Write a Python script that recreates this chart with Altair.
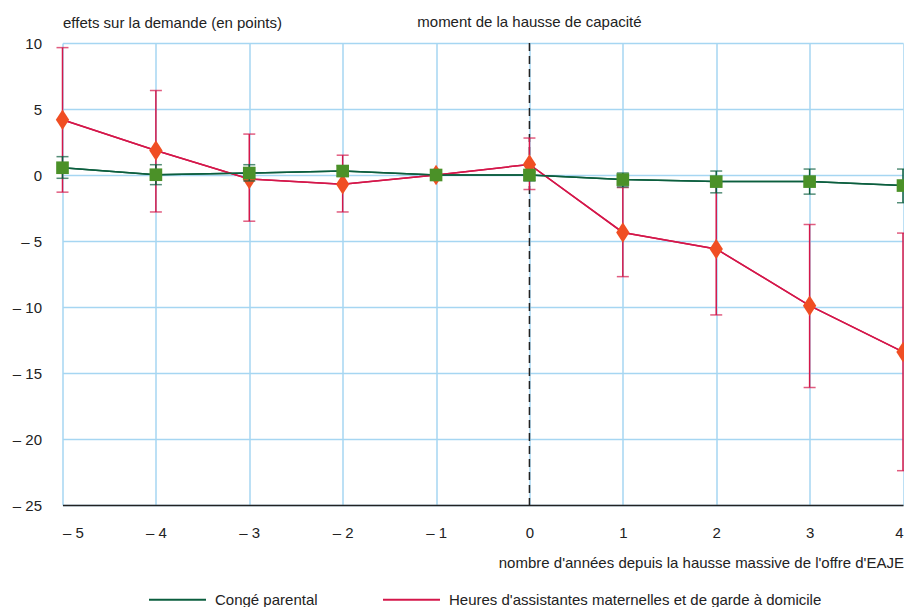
import altair as alt
import pandas as pd

years = [-5, -4, -3, -2, -1, 0, 1, 2, 3, 4]
conge = [0.55, 0.02, 0.15, 0.3, 0.0, 0.0, -0.35, -0.5, -0.5, -0.8]
conge_lo = [-0.25, -0.73, -0.45, -0.1, None, -0.45, -0.9, -1.35, -1.45, -2.1]
conge_hi = [1.39, 0.78, 0.78, 0.7, None, 0.25, 0.15, 0.3, 0.45, 0.45]
heures = [4.18, 1.85, -0.3, -0.7, 0.0, 0.8, -4.35, -5.6, -9.9, -13.4]
heures_lo = [-1.3, -2.8, -3.5, -2.8, None, -1.1, -7.7, -10.6, -16.1, -22.4]
heures_hi = [9.65, 6.4, 3.1, 1.5, None, 2.8, -0.95, -0.6, -3.75, -4.4]

s_conge = "Congé parental"
s_heures = "Heures d'assistantes maternelles et de garde à domicile"
y_ticks = [-25, -20, -15, -10, -5, 0, 5, 10]
x_ticks = years

FONT = "Liberation Sans"
FS = 15
TXT = "#222222"
GRID = "#a6d6f2"
G_LINE = "#0b5e3e"
G_MARK = "#4b9128"
R_LINE = "#d4174a"
R_MARK = "#f04e23"

rows = []
for i, yr in enumerate(years):
    rows.append({"year": yr, "serie": s_conge, "v": conge[i], "lo": conge_lo[i], "hi": conge_hi[i]})
for i, yr in enumerate(years):
    rows.append({"year": yr, "serie": s_heures, "v": heures[i], "lo": heures_lo[i], "hi": heures_hi[i]})
df = pd.DataFrame(rows)
df_err = df.dropna(subset=["lo", "hi"])
dg = df[df.serie == s_conge]
dr = df[df.serie == s_heures]
dg_err = df_err[df_err.serie == s_conge]
dr_err = df_err[df_err.serie == s_heures]

xs = alt.Scale(domain=[-5, 4], nice=False, zero=False)
ys = alt.Scale(domain=[-25, 10], nice=False, zero=False)

lab_expr = "datum.value < 0 ? '– ' + abs(datum.value) : '' + datum.value"

AX = alt.Axis(
    values=x_ticks, labelExpr=lab_expr, grid=True, gridColor=GRID, gridWidth=1.5, gridOpacity=1,
    domain=True, domainColor="#222222", domainWidth=1.5, ticks=False, labelPadding=20,
    labelFontSize=FS, labelFont=FONT, labelColor=TXT,
    title="nombre d'années depuis la hausse massive de l'offre d'EAJE",
    titleFont=FONT, titleFontSize=FS, titleFontWeight="normal", titleColor=TXT,
    titleAnchor="end", titleAlign="right", titleX=841, titleY=57, titleBaseline="middle")
AY = alt.Axis(
    values=y_ticks, labelExpr=lab_expr, grid=True, gridColor=GRID, gridWidth=1.5, gridOpacity=1,
    domain=False, ticks=False, labelPadding=21,
    labelFontSize=FS, labelFont=FONT, labelColor=TXT,
    title="effets sur la demande (en points)", titleAngle=0,
    titleFont=FONT, titleFontSize=FS, titleFontWeight="normal", titleColor=TXT,
    titleAlign="left", titleX=0, titleY=-21, titleBaseline="middle")

X = alt.X("year:Q", scale=xs, axis=AX)
Y = alt.Y("v:Q", scale=ys, axis=AY)

vline = alt.Chart(pd.DataFrame({"year": [0]})).mark_rule(
    color="#222222", strokeDash=[8, 5], strokeWidth=1.5).encode(x=X)

moment = alt.Chart(pd.DataFrame({"year": [0], "t": ["moment de la hausse de capacité"]})).mark_text(
    font=FONT, fontSize=FS, color=TXT, align="center", baseline="middle").encode(
    x=X, y=alt.value(-21), text="t:N")

def errbars(d, col):
    return alt.Chart(d).mark_errorbar(color=col, thickness=1.5, ticks={"size": 12, "thickness": 1.5}).encode(
        x=X,
        y=alt.Y("lo:Q", scale=ys, axis=AY),
        y2="hi:Q")

lines = alt.Chart(df).mark_line(strokeWidth=1.5).encode(
    x=X, y=Y,
    color=alt.Color("serie:N", scale=alt.Scale(domain=[s_conge, s_heures], range=[G_LINE, R_LINE]),
                    legend=alt.Legend(title=None, orient="none", legendX=85.5, legendY=527,
                                      direction="horizontal", symbolType="stroke", symbolSize=3249,
                                      symbolStrokeWidth=2, labelFontSize=FS, labelFont=FONT,
                                      labelColor=TXT, labelOffset=8, columnPadding=61, labelLimit=0)),
    detail="serie:N")

red_line = alt.Chart(dr).mark_line(strokeWidth=1.5, color=R_LINE).encode(x=X, y=Y)
green_line = alt.Chart(dg).mark_line(strokeWidth=1.5, color=G_LINE).encode(x=X, y=Y)

diamond = "M0,-1L0.65,0L0,1L-0.65,0Z"
red_pts = alt.Chart(dr).mark_point(shape=diamond, filled=True, size=420, color=R_MARK, opacity=1).encode(
    x=X, y=Y)
green_pts = alt.Chart(dg).mark_point(shape="square", filled=True, size=160, color=G_MARK, opacity=1).encode(
    x=X, y=Y)

chart = alt.layer(
    lines, vline, errbars(dr_err, R_LINE), red_line, red_pts,
    errbars(dg_err, G_LINE), green_line, green_pts, moment
).properties(
    width=840.5, height=462,
    autosize=alt.AutoSizeParams(type="none"),
    padding={"left": 54.5, "top": 35, "right": 1, "bottom": 102},
).configure(background="white").configure_view(stroke=None).configure_axis(
    gridColor=GRID, gridOpacity=1).configure_axisY(gridColor=GRID, gridOpacity=1).configure_axisX(
    gridColor=GRID, gridOpacity=1)

chart.save("out.html", embed_options={"renderer": "svg", "actions": False})
